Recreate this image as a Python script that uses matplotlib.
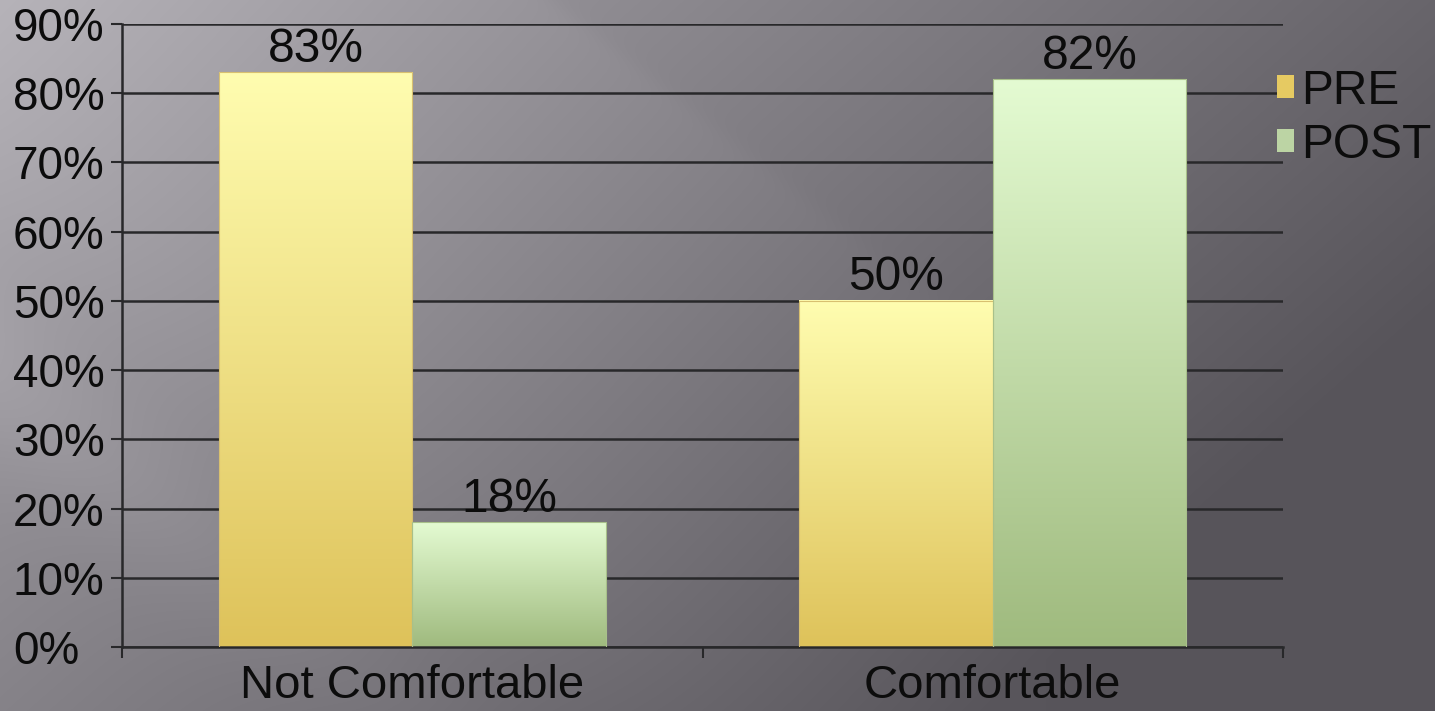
import numpy as np
import matplotlib
matplotlib.use("Agg")
import matplotlib.pyplot as plt
from matplotlib.patches import Patch
from matplotlib.colors import LinearSegmentedColormap

# ---- data ----
categories = ["Not Comfortable", "Comfortable"]
series_names = ["PRE", "POST"]
pre_values = [83, 50]
post_values = [18, 82]
y_ticks = [0, 10, 20, 30, 40, 50, 60, 70, 80, 90]
y_tick_labels = [f"{v}%" for v in y_ticks]

# ---- style ----
plt.rcParams['font.family'] = ['Liberation Sans', 'DejaVu Sans']
FS_TICK = 33
FS = 34.5
FS_CAT = 34
TXT = "#0c0c0c"
GRID = "#28282a"
pre_top, pre_bot = "#fffdb0", "#dec25a"
post_top, post_bot = "#e4fbd2", "#9fba7e"

W, H = 1435, 711
fig = plt.figure(figsize=(W / 100, H / 100), dpi=100)

# background (styling only)
bg_ax = fig.add_axes([0, 0, 1, 1], zorder=-10)
yy, xx = np.mgrid[0:H, 0:W].astype(float)
d = np.clip((xx / W) * 0.8 + (yy / H) * 0.45, 0, 1)
v = 170 - 84 * d
dd = 0.78 * xx - yy
upper = 1 / (1 + np.exp((dd - 430) / 6))
lower = 1 / (1 + np.exp(-(dd + 260) / 60))
band1 = upper * lower * np.clip(1 - xx / 1150, 0, 1)
band2 = np.exp(-((dd + 380) / 90) ** 2) * np.clip(1 - xx / 600, 0, 1)
v = v + 11 * band1 + 10 * band2
img = np.stack([v + 1, v - 2, v + 4], axis=-1)
img = np.clip(img, 0, 255) / 255.0
bg_ax.imshow(img, aspect='auto', extent=[0, 1, 0, 1], interpolation='bilinear')
bg_ax.set_axis_off()

left, right, top, bottom = 122, 1283, 24, 647
ax = fig.add_axes([left / W, 1 - bottom / H, (right - left) / W, (bottom - top) / H])
ax.patch.set_alpha(0)

x = np.arange(len(categories))
bw = 1 / 3
bars_pre = ax.bar(x - bw / 2, pre_values, bw, color='none', edgecolor='#d8c070', linewidth=0.8, zorder=3)
bars_post = ax.bar(x + bw / 2, post_values, bw, color='none', edgecolor='#a8c08a', linewidth=0.8, zorder=3)

grad = np.linspace(0, 1, 256).reshape(-1, 1)
for bars, c_top, c_bot in [(bars_pre, pre_top, pre_bot), (bars_post, post_top, post_bot)]:
    cmap = LinearSegmentedColormap.from_list("g", [c_bot, c_top])
    for b in bars:
        x0, w, h = b.get_x(), b.get_width(), b.get_height()
        ax.imshow(grad, cmap=cmap, aspect='auto', origin='lower',
                  extent=[x0, x0 + w, 0, h], interpolation='bicubic', zorder=2)
        ax.annotate(f"{int(h)}%", (x0 + w / 2, h), xytext=(0, 0.5), textcoords='offset points',
                    ha='center', va='bottom', fontsize=FS, color=TXT)

ax.set_xlim(-0.5, len(categories) - 0.5)
ax.set_ylim(0, 90)
ax.set_yticks(y_ticks)
ax.set_yticklabels(y_tick_labels, ha='left')
ax.set_xticks(x)
ax.set_xticklabels(categories)
ax.set_xticks(np.arange(-0.5, len(categories), 1), minor=True)
ax.tick_params(axis='x', which='major', length=0, pad=12, labelsize=FS_CAT, labelcolor=TXT)
ax.tick_params(axis='x', which='minor', length=8, width=1.5, color=GRID, direction='out')
ax.tick_params(axis='y', length=8, width=1.5, color=GRID, pad=70.5, labelsize=FS_TICK, labelcolor=TXT)

ax.yaxis.grid(True, color=GRID, linewidth=1.8, zorder=1)
ax.set_axisbelow(True)
for s in ['top', 'right']:
    ax.spines[s].set_visible(False)
for s in ['left', 'bottom']:
    ax.spines[s].set_color(GRID)
    ax.spines[s].set_linewidth(1.8)

handles = [Patch(facecolor="#e6ca62", edgecolor='none'), Patch(facecolor="#bcd4a4", edgecolor='none')]
fig.legend(handles, series_names, loc='upper left', bbox_to_anchor=(1277 / W, 1 - 69 / H),
           frameon=False, fontsize=FS, handlelength=0.36, handleheight=0.36,
           handletextpad=0.15, labelspacing=0.19, borderpad=0, borderaxespad=0,
           labelcolor=TXT)

fig.savefig("out.png", dpi=100)
